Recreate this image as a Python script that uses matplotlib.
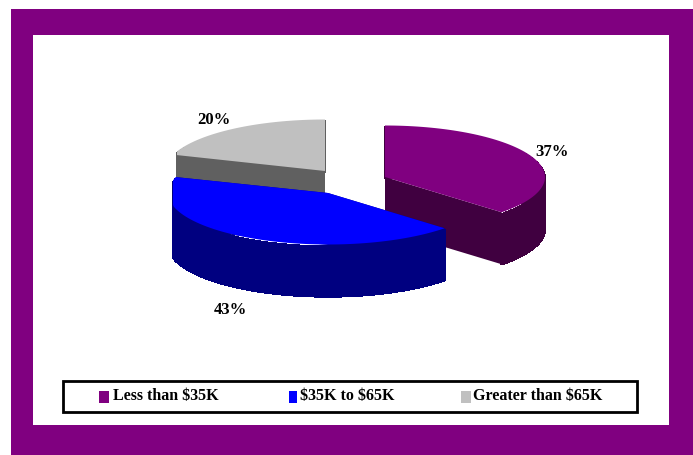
import numpy as np
import matplotlib
matplotlib.use('Agg')
import matplotlib.pyplot as plt
from matplotlib.patches import Rectangle, Polygon
from matplotlib.collections import PolyCollection

categories = ['Less than $35K', '$35K to $65K', 'Greater than $65K']
values = [37, 43, 20]
top_colors = ['#800080', '#0000ff', '#c0c0c0']
side_colors = ['#400040', '#000080', '#606060']

# apex of each slice in pixels, slices are pulled out of the pie
centers = [(385, 177), (328, 193), (325, 171)]
rx = 160
ry = 51.5
depth = 52
left_limit = [0, 173, 177]
label_pos = [(552, 152), (230, 310), (214, 120)]
legend_marker_x = [99, 289, 461]
legend_marker_w = [10, 8, 10]
legend_text_x = [113, 300, 473]

fig = plt.figure(figsize=(6.93, 4.55), dpi=100)
ax = fig.add_axes([0, 0, 1, 1])
ax.set_xlim(0, 693)
ax.set_ylim(455, 0)
ax.axis('off')

ax.add_patch(Rectangle((11, 9), 682, 446, fc='#800080', ec='none'))
ax.add_patch(Rectangle((33, 35), 636, 390, fc='white', ec='none'))


def slice_points(cx, cy, a0, a1, xmin):
    t = np.radians(np.linspace(a0, a1, 80))
    return np.clip(cx + rx*np.sin(t), xmin, None), cy - ry*np.cos(t)


# angles run clockwise from 12 o'clock
edges = np.concatenate([[0], np.cumsum(values)]) * 3.6

# back slices first so the blue one covers them
for z, i in enumerate([2, 0, 1]):
    cx, cy = centers[i]
    x, y = slice_points(cx, cy, edges[i], edges[i+1], left_limit[i])
    zo = 2 + z
    # cut faces
    for xe, ye in [(x[0], y[0]), (x[-1], y[-1])]:
        ax.add_patch(Polygon([(cx, cy), (xe, ye), (xe, ye+depth), (cx, cy+depth)],
                             fc=side_colors[i], ec='none', zorder=zo))
    # outer wall, one quad per arc step, top edge kept under the top face
    quads = [[(x[k], y[k]+2), (x[k+1], y[k+1]+2), (x[k+1], y[k+1]+depth), (x[k], y[k]+depth)]
             for k in range(len(x)-1)]
    ax.add_collection(PolyCollection(quads, facecolors=side_colors[i], edgecolors=side_colors[i],
                                     linewidths=1, antialiaseds=False, zorder=zo))
    # top
    ax.add_patch(Polygon(np.r_[[(cx, cy)], np.c_[x, y]],
                         fc=top_colors[i], ec='none', zorder=zo))
    ax.text(label_pos[i][0], label_pos[i][1], '%d%%' % values[i], family='Liberation Serif',
            weight='bold', fontsize=12, ha='center', va='center', color='black', zorder=10)

ax.add_patch(Rectangle((63, 381), 574, 31, fc='white', ec='black', lw=2, zorder=5))
for i in range(3):
    ax.add_patch(Rectangle((legend_marker_x[i], 391), legend_marker_w[i], 12,
                           fc=top_colors[i], ec='none', zorder=6))
    ax.text(legend_text_x[i], 396, categories[i].replace('$', r'\$'), family='Liberation Serif',
            weight='bold', fontsize=11.5, ha='left', va='center', color='black', zorder=6)

fig.savefig('out.png', dpi=100)
